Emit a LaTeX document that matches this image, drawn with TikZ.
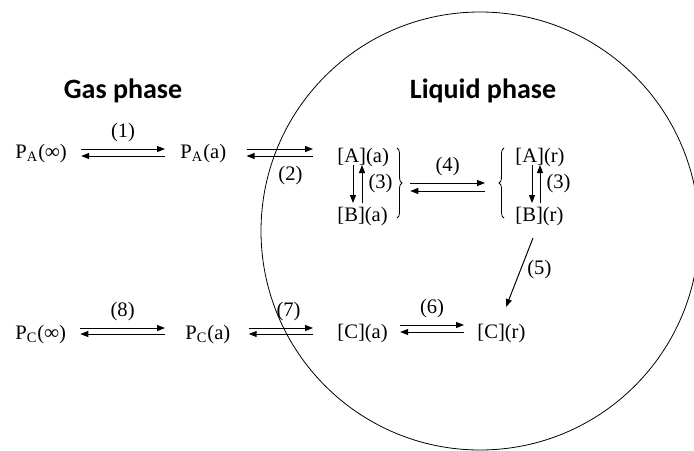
\documentclass[tikz,border=0pt]{standalone}
\usepackage{fontspec}
\setmainfont{Liberation Serif}
\newfontfamily\phasefont{Carlito}
\usepackage{tikz}
\usetikzlibrary{arrows.meta,decorations.pathreplacing}

\begin{document}
\begin{tikzpicture}[x=0.5pt,y=-0.5pt,
  spc/.style={inner sep=0pt,font=\fontsize{10.3}{12}\selectfont},
  lbl/.style={inner sep=0pt,font=\fontsize{10.3}{12}\selectfont},
  phase/.style={inner sep=0pt,font=\phasefont\fontsize{14}{17}\bfseries\selectfont},
  rx/.style={-{Triangle[length=4pt,width=3pt]},line width=0.5pt},
  brc/.style={decorate,decoration={brace,amplitude=2.5pt},line width=0.4pt}]
\useasboundingbox (0,0) rectangle (694,450);
\clip (0,0) rectangle (694,450);
% droplet
\draw[line width=0.4pt] (480,231) circle[radius=219];
\node[phase,anchor=base] (gas) at (123,98) {Gas phase};
\node[phase,anchor=base] (liq) at (483,98) {Liquid phase};
% species
\node[spc,anchor=base west] (pAinf) at (15,158) {P\textsubscript{A}(\textbf{∞})};
\node[spc,anchor=base west] (pAa) at (180,158) {P\textsubscript{A}(a)};
\node[spc,anchor=base west] (Aa) at (337,162) {[A](a)};
\node[spc,anchor=base west] (Ba) at (337,221) {[B](a)};
\node[spc,anchor=base west] (Ar) at (515,162) {[A](r)};
\node[spc,anchor=base west] (Br) at (515,221) {[B](r)};
\node[spc,anchor=base west] (pCinf) at (15,339) {P\textsubscript{C}(\textbf{∞})};
\node[spc,anchor=base west] (pCa) at (185,339) {P\textsubscript{C}(a)};
\node[spc,anchor=base west] (Ca) at (337,338) {[C](a)};
\node[spc,anchor=base west] (Cr) at (477,338) {[C](r)};
% braces
\draw[brc] (397,148) -- (397,218);
\draw[brc] (504,218) -- (504,148);
% (1)
\draw[rx] ([shift={(14,-9)}]pAinf.base east) -- node[lbl,above=3.5pt] {(1)} ([shift={(-15,-9)}]pAa.base west);
\draw[rx] ([shift={(-15,-2)}]pAa.base west) -- ([shift={(14,-2)}]pAinf.base east);
% (2)
\draw[rx] ([shift={(20,-9)}]pAa.base east) -- ([shift={(-24,-13)}]Aa.base west);
\draw[rx] ([shift={(-24,-6)}]Aa.base west) -- node[lbl,below=5pt,pos=0.34] {(2)} ([shift={(20,-2)}]pAa.base east);
% (3)
\draw[rx] ([shift={(16,3)}]Aa.base west) -- ([shift={(16,-18)}]Ba.base west);
\draw[rx] ([shift={(25,-18)}]Ba.base west) -- node[lbl,right=3pt] {(3)} ([shift={(25,3)}]Aa.base west);
\draw[rx] ([shift={(17,3)}]Ar.base west) -- ([shift={(17,-18)}]Br.base west);
\draw[rx] ([shift={(25,-18)}]Br.base west) -- node[lbl,right=3pt] {(3)} ([shift={(25,3)}]Ar.base west);
% (4)
\draw[rx] ([shift={(21,21)}]Aa.base east) -- node[lbl,above=3.5pt] {(4)} ([shift={(-30,21)}]Ar.base west);
\draw[rx] ([shift={(-30,29)}]Ar.base west) -- ([shift={(21,29)}]Aa.base east);
% (5)
\draw[rx] ([shift={(18,17)}]Br.base west) -- node[lbl,right=3pt,pos=0.45] {(5)} ([shift={(29,-31)}]Cr.base west);
% (6)
\draw[rx] ([shift={(12,-13)}]Ca.base east) -- node[lbl,above=3.5pt] {(6)} ([shift={(-13,-13)}]Cr.base west);
\draw[rx] ([shift={(-13,-6)}]Cr.base west) -- ([shift={(12,-6)}]Ca.base east);
% (7)
\draw[rx] ([shift={(18,-11)}]pCa.base east) -- node[lbl,above=3.5pt,pos=0.62] {(7)} ([shift={(-24,-10)}]Ca.base west);
\draw[rx] ([shift={(-24,-4)}]Ca.base west) -- ([shift={(18,-5)}]pCa.base east);
% (8)
\draw[rx] ([shift={(14,-11)}]pCinf.base east) -- node[lbl,above=3.5pt] {(8)} ([shift={(-20,-11)}]pCa.base west);
\draw[rx] ([shift={(-20,-5)}]pCa.base west) -- ([shift={(14,-5)}]pCinf.base east);
\end{tikzpicture}
\end{document}
